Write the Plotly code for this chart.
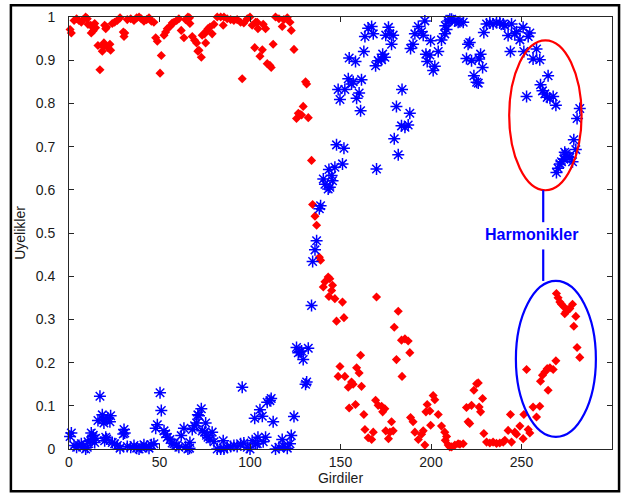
import plotly.graph_objects as go

# Input index (Girdiler)
x_vals = [0.6, 1.3, 2.8, 4.2, 5.5, 6.8, 7.9, 9.2, 10.1, 10.5, 12.0, 12.3, 12.9, 13.4, 14.2, 14.7,
          16.0, 17.1, 18.4, 18.9, 19.3, 19.7, 20.3, 20.8, 21.5, 22.6, 23.0, 23.9, 25.2, 26.7, 28.2,
          30.0, 30.4, 30.8, 32.2, 34.1, 35.9, 37.4, 38.7, 39.9, 41.4, 42.9, 44.2, 45.5, 46.9, 47.9,
          48.8, 50.3, 51.0, 52.5, 53.4, 54.3, 55.8, 57.0, 58.0, 59.5, 60.7, 62.0, 63.5, 64.4, 65.7,
          66.6, 66.8, 68.1, 69.4, 70.5, 71.2, 71.8, 73.1, 73.6, 74.9, 75.5, 76.0, 76.8, 77.9, 79.1,
          80.1, 81.9, 83.8, 85.2, 85.6, 87.4, 89.3, 91.1, 92.9, 94.8, 95.7, 96.6, 98.5, 100.0, 101.2,
          102.6, 103.1, 104.0, 104.4, 105.5, 106.8, 107.3, 108.6, 109.5, 111.0, 111.7, 112.8, 114.1,
          116.0, 117.8, 118.7, 120.6, 122.1, 122.8, 124.3, 125.7, 126.7, 127.6, 128.5, 129.4, 130.7,
          131.3, 132.2, 134.0, 134.6, 135.9, 136.8, 138.3, 139.0, 140.5, 141.4, 143.2, 143.6, 144.1,
          145.1, 145.6, 146.9, 147.8, 148.7, 149.7, 151.1, 151.9, 152.4, 154.3, 154.8, 156.1, 157.0,
          158.3, 158.9, 160.3, 161.1, 161.6, 162.9, 163.5, 165.3, 167.2, 168.1, 169.4, 169.9, 170.8,
          172.7, 173.3, 174.5, 175.0, 176.5, 177.3, 178.2, 179.1, 179.7, 180.9, 181.9, 183.7, 184.0,
          185.6, 187.4, 188.3, 188.7, 190.1, 191.1, 193.0, 194.8, 195.7, 196.6, 197.2, 197.9, 199.4,
          199.8, 201.2, 202.1, 204.0, 205.8, 207.6, 207.9, 208.6, 209.5, 210.4, 211.4, 213.2, 215.0,
          216.0, 217.8, 219.6, 220.5, 221.4, 222.4, 223.7, 225.2, 226.1, 226.6, 227.4, 228.5, 229.2,
          230.7, 232.5, 234.3, 236.2, 238.0, 239.9, 240.8, 242.6, 243.9, 244.5, 246.3, 247.3, 249.1,
          250.9, 251.3, 252.8, 253.7, 254.6, 256.4, 258.3, 260.1, 260.5, 261.6, 262.9, 264.2, 264.7,
          265.7, 267.5, 269.0, 269.3, 270.2, 271.2, 272.1, 273.4, 273.9, 274.5, 275.7, 276.7, 278.2,
          278.9, 280.0, 280.7, 282.2]

# Red series membership
red_vals = [0.971, 0.963, 0.992, 0.996, 0.992, 0.988, 0.994, 1.000, 0.996, 0.983, 0.981, 0.963, 0.978,
            0.968, 0.985, 0.975, 0.934, 0.878, 0.921, 0.932, 0.940, 0.981, 0.973, 0.977, 0.929, 0.937,
            0.923, 0.985, 0.988, 0.992, 0.998, 0.965, 0.955, 0.963, 0.994, 0.996, 0.992, 0.998, 1.000,
            0.996, 0.990, 0.994, 0.998, 0.990, 0.988, 0.952, 0.944, 0.870, 0.911, 0.958, 0.965, 0.973,
            0.978, 0.986, 0.988, 0.992, 0.996, 0.969, 0.952, 0.994, 1.000, 0.998, 0.985, 0.955, 0.946,
            0.940, 0.921, 0.923, 0.907, 0.958, 0.961, 0.940, 0.968, 0.973, 0.977, 0.961, 0.983, 1.000,
            1.000, 0.981, 1.000, 0.996, 0.994, 0.992, 0.994, 0.988, 0.857, 0.986, 0.996, 1.000, 0.981,
            0.929, 0.988, 0.988, 0.973, 0.909, 0.924, 0.983, 0.973, 0.892, 0.888, 0.883, 0.937, 1.000,
            0.996, 0.978, 0.994, 0.998, 0.988, 0.969, 0.925, 0.765, 0.777, 0.775, 0.773, 0.793, 0.850,
            0.845, 0.767, 0.668, 0.566, 0.539, 0.518, 0.444, 0.437, 0.375, 0.387, 0.398, 0.353, 0.394,
            0.367, 0.379, 0.348, 0.296, 0.168, 0.191, 0.340, 0.304, 0.168, 0.143, 0.095, 0.155, 0.150,
            0.103, 0.188, 0.176, 0.217, 0.145, 0.080, 0.045, 0.026, 0.022, 0.039, 0.113, 0.352, 0.101,
            0.099, 0.086, 0.093, 0.042, 0.024, 0.039, 0.063, 0.042, 0.282, 0.207, 0.319, 0.252, 0.168,
            0.255, 0.250, 0.223, 0.073, 0.063, 0.039, 0.022, 0.034, 0.042, 0.009, 0.086, 0.103, 0.088,
            0.055, 0.124, 0.114, 0.080, 0.053, 0.039, 0.020, 0.029, 0.009, 0.005, 0.005, 0.009, 0.012,
            0.011, 0.012, 0.096, 0.063, 0.059, 0.101, 0.136, 0.151, 0.153, 0.097, 0.086, 0.117, 0.036,
            0.016, 0.014, 0.016, 0.013, 0.014, 0.016, 0.020, 0.043, 0.080, 0.016, 0.039, 0.034, 0.053,
            0.024, 0.080, 0.184, 0.045, 0.037, 0.097, 0.074, 0.099, 0.157, 0.171, 0.178, 0.186, 0.136,
            0.188, 0.184, 0.204, 0.360, 0.350, 0.340, 0.335, 0.329, 0.313, 0.317, 0.323, 0.325, 0.335,
            0.284, 0.307, 0.235, 0.212]

# Blue series membership
blue_vals = [0.029, 0.037, 0.008, 0.004, 0.008, 0.012, 0.006, 0.000, 0.004, 0.017, 0.019, 0.037, 0.022,
             0.032, 0.015, 0.025, 0.066, 0.122, 0.079, 0.068, 0.060, 0.019, 0.027, 0.023, 0.071, 0.063,
             0.077, 0.015, 0.012, 0.008, 0.002, 0.035, 0.045, 0.037, 0.006, 0.004, 0.008, 0.002, 0.000,
             0.004, 0.010, 0.006, 0.002, 0.010, 0.012, 0.048, 0.056, 0.130, 0.089, 0.042, 0.035, 0.027,
             0.022, 0.014, 0.012, 0.008, 0.004, 0.031, 0.048, 0.006, 0.000, 0.002, 0.015, 0.045, 0.054,
             0.060, 0.079, 0.077, 0.093, 0.042, 0.039, 0.060, 0.032, 0.027, 0.023, 0.039, 0.017, 0.000,
             0.000, 0.019, 0.000, 0.004, 0.006, 0.008, 0.006, 0.012, 0.143, 0.014, 0.004, 0.000, 0.019,
             0.071, 0.012, 0.012, 0.027, 0.091, 0.076, 0.017, 0.027, 0.108, 0.112, 0.117, 0.063, 0.000,
             0.004, 0.022, 0.006, 0.002, 0.012, 0.031, 0.075, 0.235, 0.223, 0.225, 0.227, 0.207, 0.150,
             0.155, 0.233, 0.332, 0.434, 0.461, 0.482, 0.556, 0.563, 0.625, 0.613, 0.602, 0.647, 0.606,
             0.633, 0.621, 0.652, 0.704, 0.832, 0.809, 0.660, 0.696, 0.832, 0.857, 0.905, 0.845, 0.850,
             0.897, 0.812, 0.824, 0.783, 0.855, 0.920, 0.955, 0.974, 0.978, 0.961, 0.887, 0.648, 0.899,
             0.901, 0.914, 0.907, 0.958, 0.976, 0.961, 0.937, 0.958, 0.718, 0.793, 0.681, 0.748, 0.832,
             0.745, 0.750, 0.777, 0.927, 0.937, 0.961, 0.978, 0.966, 0.958, 0.991, 0.914, 0.897, 0.912,
             0.945, 0.876, 0.886, 0.920, 0.947, 0.961, 0.980, 0.971, 0.991, 0.995, 0.995, 0.991, 0.988,
             0.989, 0.988, 0.904, 0.937, 0.941, 0.899, 0.864, 0.849, 0.847, 0.903, 0.914, 0.883, 0.964,
             0.984, 0.986, 0.984, 0.987, 0.986, 0.984, 0.980, 0.957, 0.920, 0.984, 0.961, 0.966, 0.947,
             0.976, 0.920, 0.816, 0.955, 0.963, 0.903, 0.926, 0.901, 0.843, 0.829, 0.822, 0.814, 0.864,
             0.812, 0.816, 0.796, 0.640, 0.650, 0.660, 0.665, 0.671, 0.687, 0.683, 0.677, 0.675, 0.665,
             0.716, 0.693, 0.765, 0.788]

x_ticks = [0, 50, 100, 150, 200, 250, 300]
x_tick_labels = ["0", "50", "100", "150", "200", "250", "300"]
y_ticks = [0, 0.1, 0.2, 0.3, 0.4, 0.5, 0.6, 0.7, 0.8, 0.9, 1.0]
y_tick_labels = ["0", "0.1", "0.2", "0.3", "0.4", "0.5", "0.6", "0.7", "0.8", "0.9", "1"]

FONT = "Liberation Sans, Arial, sans-serif"

fig = go.Figure()
fig.add_trace(go.Scatter(
    x=x_vals, y=red_vals, mode="markers",
    marker=dict(symbol="diamond", size=7, color="#ff0000", line=dict(width=0)),
    showlegend=False, hoverinfo="skip", cliponaxis=False))
fig.add_trace(go.Scatter(
    x=x_vals, y=blue_vals, mode="markers",
    marker=dict(symbol="asterisk-open", size=10, color="#0000ff", line=dict(width=1.5, color="#0000ff")),
    showlegend=False, hoverinfo="skip", cliponaxis=False))

shapes = [
    # red ellipse
    dict(type="circle", xref="x", yref="y", x0=243.2, x1=283.2, y0=0.599, y1=0.946,
         line=dict(color="#ff0000", width=2.2)),
    # blue ellipse
    dict(type="circle", xref="x", yref="y", x0=246.9, x1=291.1, y0=0.028, y1=0.389,
         line=dict(color="#0000ff", width=2.2)),
    # connector lines
    dict(type="line", xref="x", yref="y", x0=262, x1=262, y0=0.599, y1=0.525,
         line=dict(color="#0000ff", width=2.2)),
    dict(type="line", xref="x", yref="y", x0=262, x1=262, y0=0.462, y1=0.389,
         line=dict(color="#0000ff", width=2.2)),
    # outer frame
    dict(type="rect", xref="paper", yref="paper", x0=-0.107, x1=1.013, y0=-0.098, y1=1.027,
         line=dict(color="black", width=2.5), layer="above"),
]

fig.update_layout(
    width=621, height=498,
    margin=dict(l=69, r=9, t=17, b=49, autoexpand=False),
    paper_bgcolor="white", plot_bgcolor="white",
    font=dict(family=FONT, size=13, color="#1a1a1a"),
    shapes=shapes,
    annotations=[dict(x=255.3, y=0.497, xref="x", yref="y", text="<b>Harmonikler</b>",
                      showarrow=False, font=dict(family=FONT, size=16, color="#0000ff"),
                      bgcolor="white")],
)
fig.update_xaxes(
    range=[0, 300], tickvals=x_ticks, ticktext=x_tick_labels,
    ticks="inside", ticklen=5, tickcolor="#262626", showline=True, linecolor="#262626", linewidth=1,
    mirror="ticks", showgrid=False, zeroline=False, automargin=False,
    tickfont=dict(size=14),
    title=dict(text="Girdiler", font=dict(size=14), standoff=4))
fig.update_yaxes(
    range=[0, 1], tickvals=y_ticks, ticktext=y_tick_labels,
    ticks="inside", ticklen=5, tickcolor="#262626", showline=True, linecolor="#262626", linewidth=1,
    mirror="ticks", showgrid=False, zeroline=False, automargin=False,
    tickfont=dict(size=14), ticklabelstandoff=10,
    title=dict(text="Uyelikler", font=dict(size=14), standoff=6))

fig.write_html("out.html",
               config={"displayModeBar": False},
               post_script="document.body.style.margin='0';document.body.style.overflow='hidden';")
